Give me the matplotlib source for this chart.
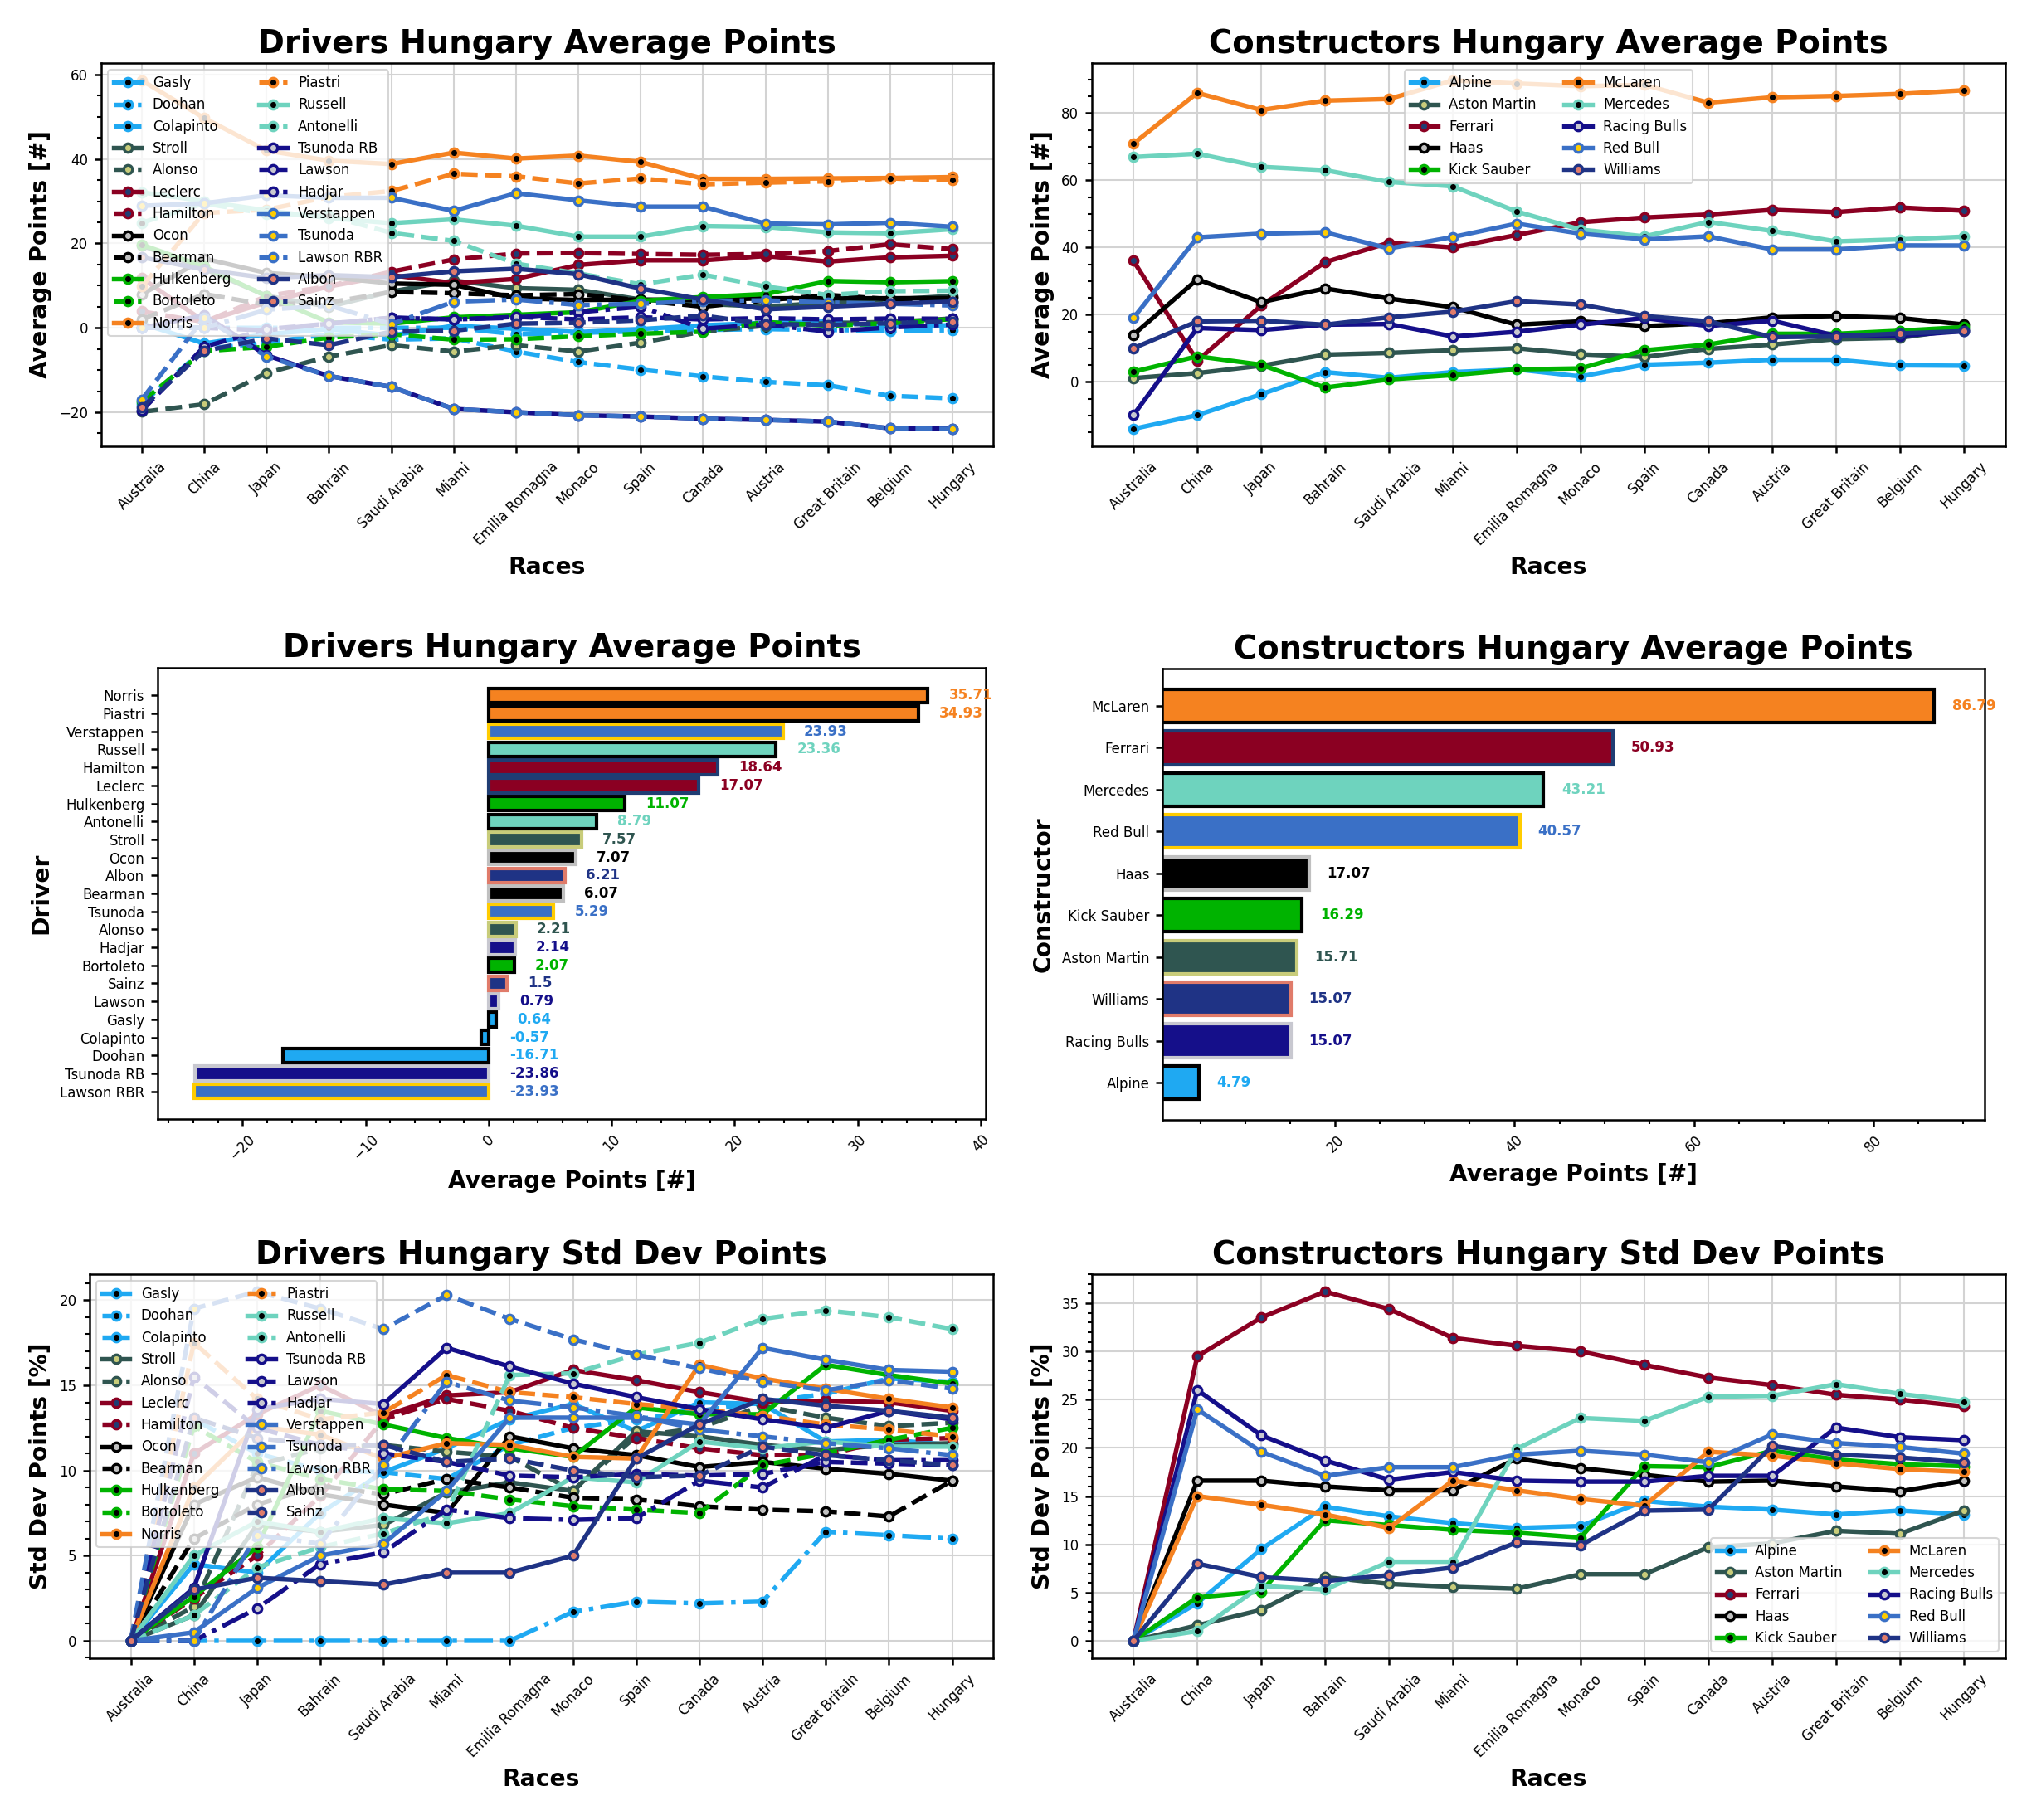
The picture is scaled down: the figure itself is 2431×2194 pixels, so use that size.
import matplotlib
matplotlib.use("Agg")
import matplotlib.pyplot as plt
from matplotlib.ticker import AutoMinorLocator

races = ['Australia', 'China', 'Japan', 'Bahrain', 'Saudi Arabia', 'Miami',
         'Emilia Romagna', 'Monaco', 'Spain', 'Canada', 'Austria',
         'Great Britain', 'Belgium', 'Hungary']

# team colours (line / bar face) and marker colours (marker face / bar edge)
teams = ['Alpine', 'Aston Martin', 'Ferrari', 'Haas', 'Kick Sauber',
         'McLaren', 'Mercedes', 'Racing Bulls', 'Red Bull', 'Williams']
team_colors = ['#1FA9F2', '#2F5550', '#8B0022', '#000000', '#00B300',
               '#F58220', '#6ED3BE', '#150F8A', '#3A70C6', '#1F3385']
marker_colors = ['#000000', '#C8CC7A', '#1F3D73', '#C0C0C0', '#000000',
                 '#000000', '#000000', '#C8C8D0', '#FFCC00', '#E07B6A']

drivers = ['Gasly', 'Doohan', 'Colapinto', 'Stroll', 'Alonso', 'Leclerc',
           'Hamilton', 'Ocon', 'Bearman', 'Hulkenberg', 'Bortoleto', 'Norris',
           'Piastri', 'Russell', 'Antonelli', 'Tsunoda RB', 'Lawson', 'Hadjar',
           'Verstappen', 'Tsunoda', 'Lawson RBR', 'Albon', 'Sainz']
driver_teams = ['Alpine', 'Alpine', 'Alpine', 'Aston Martin', 'Aston Martin',
                'Ferrari', 'Ferrari', 'Haas', 'Haas', 'Kick Sauber', 'Kick Sauber',
                'McLaren', 'McLaren', 'Mercedes', 'Mercedes', 'Racing Bulls',
                'Racing Bulls', 'Racing Bulls', 'Red Bull', 'Red Bull', 'Red Bull',
                'Williams', 'Williams']
driver_styles = ['-', '--', '-.', '-', '--', '-', '--', '-', '--', '-', '--', '-',
                 '--', '-', '--', '-', '-.', '--', '-', '-.', '--', '-', '--']

# drivers average points per race
gasly_avg      = [1.0, -3.7, -1.5, -0.3, -1.8, 0.5, -0.2, -1.0, -0.3, 0.6, 1.2, 1.5, 0.3, 0.64]
doohan_avg     = [-18.0, -5.0, -3.5, -1.5, -2.8, -2.5, -5.6, -8.1, -9.9, -11.5, -12.8, -13.6, -16.1, -16.71]
colapinto_avg  = [0.0, 0.0, 0.0, 0.0, 0.0, 0.0, -1.5, -1.2, -0.8, -0.5, -0.3, -0.5, -0.7, -0.57]
stroll_avg     = [19.5, 14.0, 7.6, 5.0, 8.6, 11.2, 9.4, 9.0, 6.7, 5.7, 5.0, 6.0, 6.7, 7.57]
alonso_avg     = [-19.9, -18.1, -10.7, -6.8, -4.1, -5.6, -4.1, -5.6, -3.5, -0.9, 0.5, 1.1, 1.4, 2.21]
leclerc_avg    = [11.8, 1.5, 6.0, 9.8, 12.5, 10.6, 11.6, 14.9, 16.0, 16.0, 17.0, 15.7, 16.7, 17.07]
hamilton_avg   = [3.9, 1.4, 7.5, 9.9, 13.3, 16.2, 17.6, 17.7, 17.5, 17.3, 17.5, 18.2, 19.8, 18.64]
ocon_avg       = [7.9, 16.4, 13.0, 12.0, 10.5, 10.2, 7.0, 6.6, 6.7, 6.6, 7.0, 7.0, 7.0, 7.07]
bearman_avg    = [2.0, 8.0, 5.5, 6.0, 8.5, 8.2, 7.7, 8.0, 6.5, 5.0, 6.5, 7.8, 6.8, 6.07]
hulkenberg_avg = [19.7, 14.5, 7.5, 1.3, 1.0, 2.5, 3.1, 3.7, 6.4, 7.3, 8.0, 11.1, 10.8, 11.07]
bortoleto_avg  = [-17.5, -5.5, -4.5, -2.3, -1.5, -2.8, -2.7, -2.0, -1.4, -0.9, 1.4, 0.5, 1.1, 2.07]
norris_avg     = [58.6, 49.7, 42.0, 39.6, 38.8, 41.5, 40.1, 40.8, 39.3, 35.3, 35.3, 35.4, 35.5, 35.71]
piastri_avg    = [9.8, 27.2, 28.0, 31.0, 32.4, 36.5, 35.9, 34.2, 35.4, 34.0, 34.4, 34.7, 35.4, 34.93]
russell_avg    = [32.1, 30.0, 27.8, 26.0, 24.8, 25.7, 24.2, 21.6, 21.6, 24.1, 23.9, 22.6, 22.4, 23.36]
antonelli_avg  = [24.9, 29.5, 27.0, 26.5, 22.5, 20.6, 15.2, 12.9, 10.3, 12.6, 9.8, 7.8, 8.7, 8.79]
tsunoda_rb_avg = [0.0, 3.0, -6.5, -11.4, -14.0, -19.2, -20.0, -20.7, -21.0, -21.5, -21.8, -22.2, -23.8, -23.86]
lawson_avg     = [0.0, 0.0, -0.6, 1.0, 2.4, 2.0, 2.4, 3.7, 5.0, -0.2, 0.8, -0.9, 0.1, 0.79]
hadjar_avg     = [-19.6, -4.5, -0.3, 1.0, 2.4, 2.0, 2.6, 2.0, 2.5, 2.0, 2.3, 2.0, 2.2, 2.14]
verstappen_avg = [28.9, 29.5, 31.4, 30.8, 30.8, 27.7, 31.9, 30.2, 28.7, 28.7, 24.7, 24.5, 24.9, 23.93]
tsunoda_avg    = [0.0, 0.0, 4.3, 5.3, 0.9, 6.2, 6.7, 5.4, 5.7, 6.4, 6.5, 6.0, 5.7, 5.29]
lawson_rbr_avg = [-17.0, 2.4, -6.8, -11.4, -14.0, -19.2, -20.0, -20.7, -21.0, -21.5, -21.8, -22.2, -23.8, -23.93]
albon_avg      = [16.7, 13.8, 11.8, 12.5, 12.0, 13.4, 14.0, 12.7, 9.3, 6.7, 4.4, 5.0, 5.7, 6.21]
sainz_avg      = [-18.9, -5.5, -2.5, -4.1, -0.9, -0.7, 1.0, 1.2, 1.8, 2.9, 0.9, 0.7, 1.1, 1.5]

# drivers std dev of points per race
gasly_std      = [0, 4.5, 4.0, 7.5, 9.9, 11.3, 13.0, 13.9, 12.3, 14.0, 13.9, 11.7, 11.8, 11.5]
doohan_std     = [0, 13.0, 11.0, 10.0, 9.9, 9.5, 11.5, 12.5, 13.0, 13.5, 14.0, 14.5, 15.4, 15.2]
colapinto_std  = [0, 0, 0, 0, 0, 0, 0, 1.7, 2.3, 2.2, 2.3, 6.4, 6.2, 6.0]
stroll_std     = [0, 1.5, 6.8, 6.4, 6.8, 8.7, 9.3, 8.8, 12.3, 12.0, 11.5, 11.2, 11.5, 11.6]
alonso_std     = [0, 2.0, 10.3, 11.3, 11.5, 11.1, 10.8, 8.8, 12.0, 12.5, 13.8, 13.1, 12.6, 12.8]
leclerc_std    = [0, 11.0, 13.3, 15.0, 13.2, 14.4, 14.6, 15.9, 15.3, 14.6, 14.0, 14.1, 14.0, 13.5]
hamilton_std   = [0, 2.5, 5.0, 8.5, 13.0, 14.2, 13.5, 12.5, 11.9, 11.3, 10.9, 10.9, 11.8, 11.9]
ocon_std       = [0, 8.0, 9.6, 8.6, 8.0, 7.5, 12.0, 11.3, 10.9, 10.2, 10.5, 10.1, 9.8, 9.4]
bearman_std    = [0, 6.0, 8.0, 9.1, 8.6, 9.5, 9.0, 8.4, 8.3, 7.9, 7.7, 7.6, 7.3, 9.4]
hulkenberg_std = [0, 2.6, 5.5, 13.5, 12.7, 11.9, 11.3, 10.8, 13.7, 13.3, 13.3, 16.2, 15.6, 15.1]
bortoleto_std  = [0, 12.6, 10.5, 9.5, 8.9, 8.8, 8.3, 7.9, 7.7, 7.5, 10.3, 11.0, 11.8, 12.5]
norris_std     = [0, 9.0, 12.6, 12.1, 10.7, 11.6, 11.5, 10.8, 10.7, 16.2, 15.4, 14.8, 14.2, 13.7]
piastri_std    = [0, 17.5, 14.2, 13.0, 13.4, 15.6, 14.6, 14.3, 13.9, 13.6, 13.2, 12.7, 12.4, 12.0]
russell_std    = [0, 5.0, 7.0, 6.4, 7.2, 6.9, 7.5, 9.6, 9.3, 11.7, 11.3, 11.7, 11.4, 11.4]
antonelli_std  = [0, 1.5, 4.3, 5.5, 6.3, 7.5, 15.6, 15.7, 16.8, 17.5, 18.9, 19.4, 19.0, 18.3]
tsunoda_rb_std = [0, 3.1, 13.6, 14.2, 13.9, 17.2, 16.1, 15.1, 14.3, 13.6, 13.0, 12.5, 13.5, 13.0]
lawson_std     = [0, 0, 1.9, 4.5, 5.2, 7.7, 7.2, 7.1, 7.2, 9.4, 9.0, 10.9, 10.6, 10.6]
hadjar_std     = [0, 15.5, 12.5, 11.5, 11.0, 10.5, 9.7, 9.6, 9.8, 9.7, 9.8, 10.5, 10.4, 10.3]
verstappen_std = [0, 0.5, 3.1, 5.0, 5.7, 8.8, 13.1, 13.1, 13.1, 12.7, 17.2, 16.5, 15.9, 15.8]
tsunoda_std    = [0, 0, 6.2, 5.7, 10.3, 15.2, 14.1, 13.7, 13.2, 12.4, 12.0, 11.6, 11.3, 10.9]
lawson_rbr_std = [0, 19.5, 20.5, 19.5, 18.3, 20.3, 18.9, 17.7, 16.8, 16.0, 15.2, 14.7, 15.3, 14.8]
albon_std      = [0, 3.0, 3.7, 3.5, 3.3, 4.0, 4.0, 5.0, 10.7, 12.7, 14.2, 13.8, 13.5, 13.1]
sainz_std      = [0, 13.1, 11.9, 11.5, 11.5, 10.5, 10.7, 10.0, 9.6, 9.7, 11.4, 10.9, 10.6, 10.3]

# constructors average points per race
alpine_avg       = [-14.0, -9.9, -3.7, 2.9, 1.2, 2.9, 3.7, 1.6, 5.1, 5.7, 6.6, 6.6, 4.9, 4.79]
aston_martin_avg = [1.1, 2.6, 4.8, 8.1, 8.6, 9.4, 10.0, 8.2, 7.4, 9.8, 11.1, 12.7, 13.1, 15.71]
ferrari_avg      = [36.0, 6.3, 22.7, 35.6, 41.4, 40.0, 43.7, 47.5, 48.9, 49.8, 51.2, 50.5, 51.9, 50.93]
haas_avg         = [14.0, 30.5, 23.7, 27.8, 24.8, 22.2, 17.0, 18.0, 16.6, 17.4, 19.2, 19.6, 19.0, 17.07]
kick_sauber_avg  = [3.0, 7.6, 5.1, -1.7, 0.7, 2.0, 3.7, 4.0, 9.4, 11.1, 14.3, 14.3, 15.2, 16.29]
mclaren_avg      = [70.9, 86.0, 80.9, 83.7, 84.2, 89.7, 88.8, 88.0, 88.4, 83.1, 84.7, 85.1, 85.7, 86.79]
mercedes_avg     = [66.9, 67.9, 64.0, 63.0, 59.5, 58.2, 50.7, 45.3, 43.3, 47.6, 44.9, 41.8, 42.4, 43.21]
racing_bulls_avg = [-9.9, 16.0, 15.4, 17.0, 17.2, 13.5, 14.9, 17.0, 19.0, 16.6, 18.2, 13.7, 13.7, 15.07]
red_bull_avg     = [19.0, 43.0, 44.1, 44.5, 39.7, 43.1, 47.1, 44.1, 42.4, 43.3, 39.4, 39.4, 40.6, 40.57]
williams_avg     = [10.0, 18.0, 18.2, 17.0, 19.2, 20.9, 24.0, 23.0, 19.6, 18.0, 13.3, 13.5, 14.4, 15.07]

# constructors std dev of points per race
alpine_std       = [0, 3.9, 9.5, 13.9, 12.9, 12.2, 11.7, 11.9, 14.5, 13.9, 13.6, 13.1, 13.5, 13.1]
aston_martin_std = [0, 1.6, 3.2, 6.6, 5.9, 5.6, 5.4, 6.9, 6.9, 9.7, 10.1, 11.4, 11.1, 13.5]
ferrari_std      = [0, 29.5, 33.5, 36.2, 34.4, 31.4, 30.6, 30.0, 28.6, 27.3, 26.5, 25.5, 25.0, 24.3]
haas_std         = [0, 16.6, 16.6, 16.0, 15.6, 15.6, 18.9, 17.9, 17.2, 16.5, 16.6, 16.0, 15.5, 16.6]
kick_sauber_std  = [0, 4.5, 5.1, 12.5, 12.0, 11.5, 11.2, 10.7, 18.1, 18.0, 19.7, 18.8, 18.3, 18.1]
mclaren_std      = [0, 15.0, 14.1, 13.1, 11.7, 16.6, 15.6, 14.7, 14.0, 19.6, 19.2, 18.4, 17.8, 17.5]
mercedes_std     = [0, 1.0, 5.7, 5.3, 8.2, 8.2, 19.9, 23.1, 22.8, 25.3, 25.4, 26.6, 25.6, 24.8]
racing_bulls_std = [0, 26.0, 21.3, 18.7, 16.7, 17.5, 16.6, 16.5, 16.5, 17.1, 17.1, 22.1, 21.1, 20.8]
red_bull_std     = [0, 24.0, 19.6, 17.1, 18.0, 18.0, 19.3, 19.7, 19.3, 18.5, 21.4, 20.5, 20.1, 19.4]
williams_std     = [0, 8.0, 6.6, 6.2, 6.8, 7.6, 10.2, 9.9, 13.5, 13.6, 20.2, 19.3, 19.0, 18.5]

driver_avg = [gasly_avg, doohan_avg, colapinto_avg, stroll_avg, alonso_avg,
              leclerc_avg, hamilton_avg, ocon_avg, bearman_avg, hulkenberg_avg,
              bortoleto_avg, norris_avg, piastri_avg, russell_avg, antonelli_avg,
              tsunoda_rb_avg, lawson_avg, hadjar_avg, verstappen_avg, tsunoda_avg,
              lawson_rbr_avg, albon_avg, sainz_avg]
driver_std = [gasly_std, doohan_std, colapinto_std, stroll_std, alonso_std,
              leclerc_std, hamilton_std, ocon_std, bearman_std, hulkenberg_std,
              bortoleto_std, norris_std, piastri_std, russell_std, antonelli_std,
              tsunoda_rb_std, lawson_std, hadjar_std, verstappen_std, tsunoda_std,
              lawson_rbr_std, albon_std, sainz_std]
team_avg = [alpine_avg, aston_martin_avg, ferrari_avg, haas_avg, kick_sauber_avg,
            mclaren_avg, mercedes_avg, racing_bulls_avg, red_bull_avg, williams_avg]
team_std = [alpine_std, aston_martin_std, ferrari_std, haas_std, kick_sauber_std,
            mclaren_std, mercedes_std, racing_bulls_std, red_bull_std, williams_std]

line_col = dict(zip(teams, team_colors))
mark_col = dict(zip(teams, marker_colors))

TITLE_FS = 18.5
LABEL_FS = 13.5
TICK_FS = 8
LEG_FS = 8

W, H = 2431, 2194
fig = plt.figure(figsize=(W / 150, H / 150), dpi=150)


def box(left, right, top, bottom):
    return [left / W, 1 - bottom / H, (right - left) / W, (bottom - top) / H]


def style_axes(ax):
    for s in ax.spines.values():
        s.set_linewidth(1.2)
    ax.tick_params(which='major', width=1.2, length=4, labelsize=TICK_FS)
    ax.tick_params(which='minor', width=1.0, length=2.5)


def line_chart(ax, names, series, colors, mcolors, styles, title, ylabel, legend_loc):
    for name, vals, c, mc, ls in zip(names, series, colors, mcolors, styles):
        ax.plot(races, vals, ls, color=c, lw=2.6, marker='o', ms=5,
                mfc=mc, mec=c, mew=1.6, label=name)
    ax.set_title(title, fontsize=TITLE_FS, fontweight='bold')
    ax.set_xlabel('Races', fontsize=LABEL_FS, fontweight='bold')
    ax.set_ylabel(ylabel, fontsize=LABEL_FS, fontweight='bold')
    ax.grid(True, color='#d3d3d3', linewidth=1.0)
    ax.yaxis.set_minor_locator(AutoMinorLocator())
    ax.tick_params(axis='x', rotation=45, labelsize=TICK_FS - 1)
    ax.legend(loc=legend_loc, ncol=2, fontsize=LEG_FS)
    style_axes(ax)


def bar_chart(ax, names, values, colors, ecolors, title, ylabel, offset):
    order = sorted(range(len(values)), key=lambda i: values[i])
    names_s = [names[i] for i in order]
    vals_s = [values[i] for i in order]
    cols_s = [colors[i] for i in order]
    ecols_s = [ecolors[i] for i in order]
    ax.barh(names_s, vals_s, color=cols_s, edgecolor=ecols_s, linewidth=2.0, height=0.8)
    for y, (v, c) in enumerate(zip(vals_s, cols_s)):
        x = max(v, 0) + offset
        ax.text(x, y, f"{round(v, 2):g}", color=c, fontsize=TICK_FS,
                fontweight='bold', va='center', ha='left')
    ax.set_title(title, fontsize=TITLE_FS, fontweight='bold')
    ax.set_xlabel('Average Points [#]', fontsize=LABEL_FS, fontweight='bold')
    ax.set_ylabel(ylabel, fontsize=LABEL_FS, fontweight='bold')
    ax.xaxis.set_minor_locator(AutoMinorLocator())
    ax.tick_params(axis='x', rotation=45)
    style_axes(ax)


d_colors = [line_col[t] for t in driver_teams]
d_mcolors = [mark_col[t] for t in driver_teams]

ax1 = fig.add_axes(box(122, 1197, 76, 538))
line_chart(ax1, drivers, driver_avg, d_colors, d_mcolors, driver_styles,
           'Drivers Hungary Average Points', 'Average Points [#]', 'upper left')

ax2 = fig.add_axes(box(1316, 2417, 76, 538))
line_chart(ax2, teams, team_avg, team_colors, marker_colors, ['-'] * len(teams),
           'Constructors Hungary Average Points', 'Average Points [#]', 'upper center')

ax3 = fig.add_axes(box(190, 1188, 805, 1349))
bar_chart(ax3, drivers, [v[-1] for v in driver_avg], d_colors, d_mcolors,
          'Drivers Hungary Average Points', 'Driver', 1.7)
ax3.set_xlim(-26.9, 40.4)

ax4 = fig.add_axes(box(1401, 2392, 806, 1350))
bar_chart(ax4, teams, [v[-1] for v in team_avg], team_colors, marker_colors,
          'Constructors Hungary Average Points', 'Constructor', 2.0)
ax4.set_xlim(0.74, 92.4)

ax5 = fig.add_axes(box(108, 1197, 1536, 1999))
line_chart(ax5, drivers, driver_std, d_colors, d_mcolors, driver_styles,
           'Drivers Hungary Std Dev Points', 'Std Dev Points [%]', 'upper left')

ax6 = fig.add_axes(box(1316, 2417, 1536, 1999))
line_chart(ax6, teams, team_std, team_colors, marker_colors, ['-'] * len(teams),
           'Constructors Hungary Std Dev Points', 'Std Dev Points [%]', 'lower right')

fig.savefig('out.png', dpi=150)
